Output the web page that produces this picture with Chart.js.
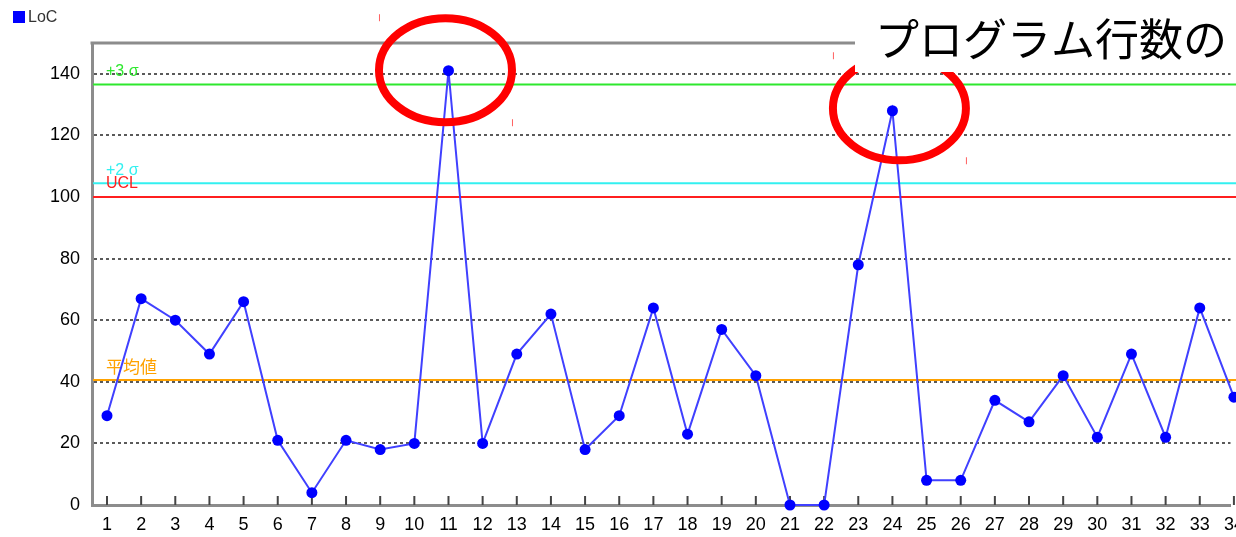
<!DOCTYPE html>
<html>
<head>
<meta charset="utf-8">
<script src="https://cdn.jsdelivr.net/npm/chart.js@4/dist/chart.umd.min.js"></script>
<style>
html, body { margin: 0; padding: 0; background: #fff; }
#wrap { width: 1236px; height: 537px; }
</style>
</head>
<body>
<div id="wrap"><canvas id="chart" width="1236" height="537"></canvas></div>
<script>
// data
var categories = ['1','2','3','4','5','6','7','8','9','10','11','12','13','14','15','16','17',
                  '18','19','20','21','22','23','24','25','26','27','28','29','30','31','32','33','34'];
var locValues = [29, 67, 60, 49, 66, 21, 4, 21, 18, 20, 141, 20, 49, 62, 18, 29, 64,
                 23, 57, 42, 0, 0, 78, 128, 8, 8, 34, 27, 42, 22, 49, 22, 64, 35];
var yTicks = [0, 20, 40, 60, 80, 100, 120, 140];

// control lines (+3σ, +2σ, UCL, mean)
var refNames  = ['+3 σ', '+2 σ', 'UCL', '平均値'];
var refValues = [136.5, 104.5, 100, 40.6];
var refColors = ['#2ee82e', '#33f0f0', '#ff1f1f', '#ffa200'];

// points circled in red
var circledPoints = [11, 24];
var calloutText = 'プログラム行数の';

var narrow = "'Liberation Sans Narrow', 'Arial Narrow', 'Liberation Sans', Arial, sans-serif";
var jpFont = "'Noto Sans CJK JP', 'Noto Sans CJK SC', sans-serif";

var decorPlugin = {
  id: 'decor',
  beforeDatasetsDraw: function(chart) {
    var ctx = chart.ctx, a = chart.chartArea, y = chart.scales.y;
    ctx.save();
    // top frame line
    ctx.strokeStyle = '#8c8c8c';
    ctx.lineWidth = 3;
    ctx.beginPath();
    ctx.moveTo(a.left - 1.5, a.top);
    ctx.lineTo(chart.width, a.top);
    ctx.stroke();
    // control lines + labels
    for (var i = 0; i < refValues.length; i++) {
      var py = y.getPixelForValue(refValues[i]);
      ctx.strokeStyle = refColors[i];
      ctx.lineWidth = 2;
      ctx.beginPath();
      ctx.moveTo(a.left + 1, py);
      ctx.lineTo(chart.width, py);
      ctx.stroke();
      ctx.fillStyle = refColors[i];
      ctx.textBaseline = 'bottom';
      ctx.textAlign = 'left';
      ctx.font = i === 3 ? '17px ' + jpFont : '16px ' + narrow;
      ctx.fillText(refNames[i], a.left + 14, py - 5);
    }
    // x tick marks inside the plot
    var x = chart.scales.x;
    ctx.strokeStyle = '#444';
    ctx.lineWidth = 2;
    for (var k = 0; k < categories.length; k++) {
      var px = x.getPixelForValue(k + 1);
      ctx.beginPath();
      ctx.moveTo(px, a.bottom - 9);
      ctx.lineTo(px, a.bottom);
      ctx.stroke();
    }
    ctx.restore();
  },
  afterDraw: function(chart) {
    var ctx = chart.ctx, x = chart.scales.x, y = chart.scales.y;
    ctx.save();
    // legend
    ctx.fillStyle = '#0000ff';
    ctx.fillRect(13, 11, 12, 12);
    ctx.fillStyle = '#333';
    ctx.font = '16px ' + narrow;
    ctx.textBaseline = 'middle';
    ctx.textAlign = 'left';
    ctx.fillText('LoC', 28, 18);

    // red ellipses round the peaks
    var offs = [[-3, -0.5], [7, -2.5]];
    for (var i = 0; i < circledPoints.length; i++) {
      var n = circledPoints[i];
      var cx = x.getPixelForValue(n) + offs[i][0];
      var cy = y.getPixelForValue(locValues[n - 1]) + offs[i][1];
      var rx = 66.5, ry = 52;
      ctx.strokeStyle = '#ff0000';
      ctx.lineWidth = 8;
      ctx.beginPath();
      ctx.ellipse(cx, cy, rx, ry, 0, 0, Math.PI * 2);
      ctx.stroke();
      // selection handle marks
      ctx.lineWidth = 1;
      ctx.strokeStyle = '#ff6060';
      ctx.beginPath();
      ctx.moveTo(cx - rx + 0.5, cy - ry - 4);
      ctx.lineTo(cx - rx + 0.5, cy - ry + 3);
      ctx.moveTo(cx + rx + 0.5, cy + ry - 3);
      ctx.lineTo(cx + rx + 0.5, cy + ry + 4);
      ctx.stroke();
    }

    // callout box
    ctx.fillStyle = '#fff';
    ctx.fillRect(855, 0, chart.width - 855, 72);
    ctx.fillStyle = '#000';
    ctx.font = '44px ' + jpFont;
    ctx.textBaseline = 'middle';
    ctx.fillText(calloutText, 875, 39);
    ctx.restore();
  }
};

var ctx = document.getElementById('chart').getContext('2d');
var chart = new Chart(ctx, {
  type: 'line',
  data: {
    datasets: [{
      label: 'LoC',
      data: locValues.map(function(v, i) { return { x: i + 1, y: v }; }),
      borderColor: '#4040ff',
      borderWidth: 2,
      pointRadius: 5.5,
      pointBackgroundColor: '#0000ff',
      pointBorderWidth: 0,
      tension: 0,
      clip: false
    }]
  },
  options: {
    responsive: false,
    animation: false,
    events: [],
    layout: { padding: { top: 43, left: 0, right: 0, bottom: 0 } },
    plugins: { legend: { display: false }, tooltip: { enabled: false } },
    scales: {
      x: {
        type: 'linear',
        min: 0.561,
        max: 33.9,
        afterFit: function(s) { s.height = 32; s.paddingLeft = 0; s.paddingRight = 0; },
        afterBuildTicks: function(s) {
          s.ticks = categories.map(function(c, i) { return { value: i + 1 }; });
        },
        grid: { display: false, drawTicks: false, tickLength: 0 },
        border: { display: true, color: '#8c8c8c', width: 3 },
        ticks: {
          autoSkip: false,
          maxRotation: 0,
          padding: 9,
          color: '#000',
          font: { family: narrow, size: 18 },
          callback: function(v) { return categories[v - 1]; }
        }
      },
      y: {
        min: 0,
        max: 150,
        afterFit: function(s) { s.width = 92; s.paddingTop = 0; s.paddingBottom = 0; },
        afterBuildTicks: function(s) {
          s.ticks = yTicks.map(function(v) { return { value: v }; });
        },
        grid: { color: '#5a5a5a', lineWidth: 2, drawTicks: false, tickLength: 0 },
        border: { display: true, color: '#8c8c8c', width: 3, dash: [3, 3] },
        ticks: {
          padding: 12,
          color: '#000',
          font: { family: narrow, size: 18 }
        }
      }
    }
  },
  plugins: [decorPlugin]
});
</script>
</body>
</html>
